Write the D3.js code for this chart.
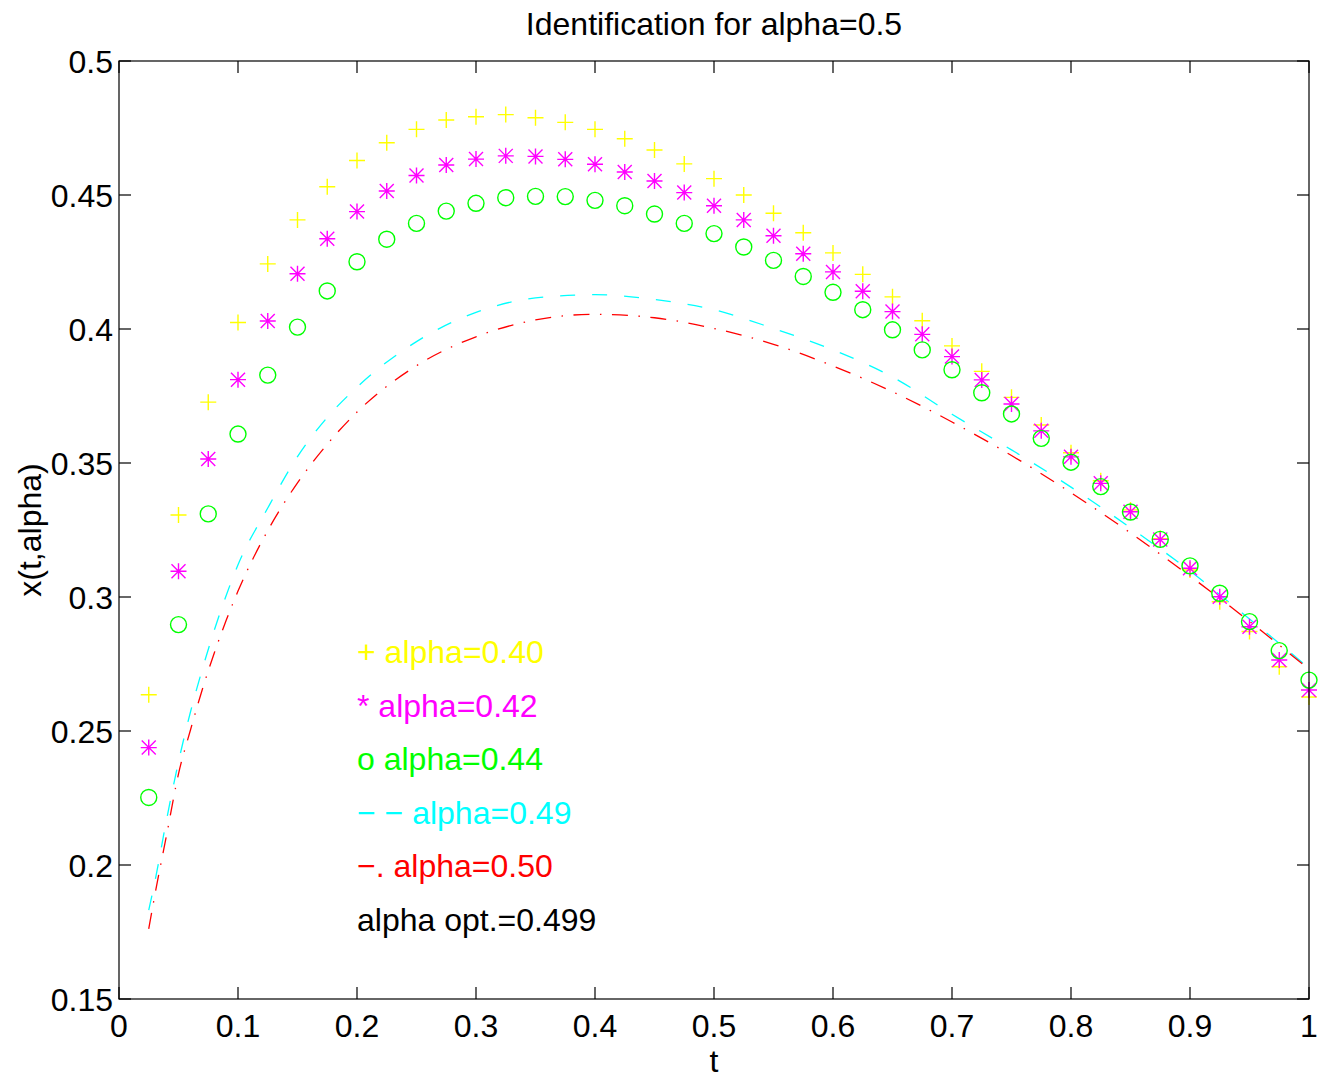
<!DOCTYPE html>
<html><head><meta charset="utf-8">
<script src="https://cdn.jsdelivr.net/npm/d3@7"></script>
<style>body{margin:0;background:#fff}svg{display:block}text{font-family:"Liberation Sans",Arial,Helvetica,sans-serif}</style>
</head><body><svg id="c" width="1327" height="1078"></svg>
<script>
const tMarkers = [0.025,0.05,0.075,0.1,0.125,0.15,0.175,0.2,0.225,0.25,0.275,0.3,0.325,0.35,0.375,0.4,0.425,0.45,0.475,0.5,0.525,0.55,0.575,0.6,0.625,0.65,0.675,0.7,0.725,0.75,0.775,0.8,0.825,0.85,0.875,0.9,0.925,0.95,0.975,1.0];
const alpha040 = [0.2635,0.3306,0.3727,0.4024,0.4243,0.4407,0.4531,0.4629,0.4695,0.4745,0.4780,0.4792,0.4800,0.4788,0.4771,0.4745,0.4710,0.4668,0.4616,0.4561,0.4500,0.4432,0.4359,0.4284,0.4204,0.4120,0.4031,0.3937,0.3842,0.3745,0.3642,0.3538,0.3434,0.3325,0.3218,0.3101,0.2982,0.2871,0.2740,0.2627];
const alpha042 = [0.2438,0.3096,0.3515,0.3811,0.4030,0.4206,0.4337,0.4438,0.4515,0.4573,0.4612,0.4634,0.4646,0.4644,0.4633,0.4615,0.4586,0.4552,0.4509,0.4460,0.4407,0.4348,0.4281,0.4213,0.4141,0.4065,0.3980,0.3897,0.3810,0.3720,0.3620,0.3523,0.3424,0.3318,0.3215,0.3107,0.3001,0.2889,0.2765,0.2653];
const alpha044 = [0.2252,0.2897,0.3310,0.3608,0.3828,0.4007,0.4142,0.4251,0.4335,0.4394,0.4440,0.4469,0.4490,0.4495,0.4494,0.4480,0.4460,0.4429,0.4394,0.4356,0.4306,0.4256,0.4196,0.4137,0.4072,0.3997,0.3922,0.3848,0.3762,0.3683,0.3592,0.3503,0.3412,0.3317,0.3215,0.3116,0.3014,0.2908,0.2800,0.2690];
const tCurve = [0.025,0.03,0.04,0.05,0.06,0.07,0.08,0.09,0.1,0.125,0.15,0.175,0.2,0.25,0.3,0.35,0.4,0.45,0.5,0.55,0.6,0.65,0.7,0.75,0.8,0.85,0.9,0.95,1.0];
const alpha049 = [0.1832,0.1935,0.2170,0.2385,0.2570,0.2730,0.2875,0.3005,0.3120,0.3332,0.3524,0.3670,0.3783,0.3953,0.4062,0.4116,0.4128,0.4110,0.4072,0.4002,0.3922,0.3821,0.3682,0.3549,0.3410,0.3258,0.3097,0.2918,0.2735];
const alpha050 = [0.1762,0.1885,0.2112,0.2340,0.2503,0.2655,0.2790,0.2912,0.3022,0.3248,0.3426,0.3570,0.3690,0.3863,0.3971,0.4034,0.4055,0.4042,0.4002,0.3943,0.3862,0.3766,0.3653,0.3528,0.3389,0.3239,0.3078,0.2909,0.2730];
const xTicks = [0,0.1,0.2,0.3,0.4,0.5,0.6,0.7,0.8,0.9,1];
const xTickLabels = ["0","0.1","0.2","0.3","0.4","0.5","0.6","0.7","0.8","0.9","1"];
const yTicks = [0.15,0.2,0.25,0.3,0.35,0.4,0.45,0.5];
const yTickLabels = ["0.15","0.2","0.25","0.3","0.35","0.4","0.45","0.5"];
const legendLabels = ["+ alpha=0.40","* alpha=0.42","o alpha=0.44","\u2212 \u2212 alpha=0.49","\u2212. alpha=0.50","alpha opt.=0.499"];
const legendColors = ["#ffff00","#ff00ff","#00ff00","#00ffff","#ff0000","#000000"];

const L=119,R=1309,T=61,B=999;
const svg=d3.select("#c");
const x=d3.scaleLinear().domain([0,1]).range([L,R]);
const y=d3.scaleLinear().domain([0.15,0.5]).range([B,T]);
const FS=32;

// curves
const line=d3.line().x(d=>x(d[0])).y(d=>y(d[1])).curve(d3.curveMonotoneX);
svg.append("path").attr("d",line(tCurve.map((t,i)=>[t,alpha049[i]])))
  .attr("fill","none").attr("stroke","#00ffff").attr("stroke-width",1.3).attr("stroke-dasharray","15,17");
svg.append("path").attr("d",line(tCurve.map((t,i)=>[t,alpha050[i]])))
  .attr("fill","none").attr("stroke","#ff0000").attr("stroke-width",1.3).attr("stroke-dasharray","16,10.5,1.5,10.5");

// markers
const g=svg.append("g");
g.selectAll(".plus").data(tMarkers.map((t,i)=>[t,alpha040[i]])).join("path")
  .attr("d",d=>{const cx=x(d[0]),cy=y(d[1]);return `M${cx-8},${cy}H${cx+8}M${cx},${cy-8}V${cy+8}`;})
  .attr("stroke","#ffff00").attr("stroke-width",1.4).attr("fill","none");
g.selectAll(".star").data(tMarkers.map((t,i)=>[t,alpha042[i]])).join("path")
  .attr("d",d=>{const cx=x(d[0]),cy=y(d[1]),a=7;return `M${cx-8},${cy}H${cx+8}M${cx},${cy-8}V${cy+8}M${cx-a},${cy-a}L${cx+a},${cy+a}M${cx-a},${cy+a}L${cx+a},${cy-a}`;})
  .attr("stroke","#ff00ff").attr("stroke-width",1.4).attr("fill","none");
g.selectAll(".circ").data(tMarkers.map((t,i)=>[t,alpha044[i]])).join("circle")
  .attr("cx",d=>x(d[0])).attr("cy",d=>y(d[1])).attr("r",8)
  .attr("stroke","#00ff00").attr("stroke-width",1.4).attr("fill","none");

// axes box and ticks
const ax=svg.append("g").attr("stroke","#000").attr("stroke-width",1.2);
ax.append("rect").attr("x",L).attr("y",T).attr("width",R-L).attr("height",B-T).attr("fill","none");
xTicks.forEach(v=>{
  ax.append("line").attr("x1",x(v)).attr("x2",x(v)).attr("y1",B).attr("y2",B-12);
  ax.append("line").attr("x1",x(v)).attr("x2",x(v)).attr("y1",T).attr("y2",T+12);
});
yTicks.forEach(v=>{
  ax.append("line").attr("y1",y(v)).attr("y2",y(v)).attr("x1",L).attr("x2",L+12);
  ax.append("line").attr("y1",y(v)).attr("y2",y(v)).attr("x1",R).attr("x2",R-12);
});
svg.append("g").selectAll("text").data(xTicks).join("text")
  .attr("x",d=>x(d)).attr("y",B+38).attr("text-anchor","middle").attr("font-size",FS)
  .text((d,i)=>xTickLabels[i]);
svg.append("g").selectAll("text").data(yTicks).join("text")
  .attr("x",L-6).attr("y",d=>y(d)+11.5).attr("text-anchor","end").attr("font-size",FS)
  .text((d,i)=>yTickLabels[i]);

svg.append("text").attr("x",(L+R)/2).attr("y",35).attr("text-anchor","middle").attr("font-size",FS).text("Identification for alpha=0.5");
svg.append("text").attr("x",(L+R)/2).attr("y",1072).attr("text-anchor","middle").attr("font-size",FS).text("t");
svg.append("text").attr("transform",`translate(41,${(T+B)/2}) rotate(-90)`).attr("text-anchor","middle").attr("font-size",FS).text("x(t,alpha)");

// legend text
svg.append("g").selectAll("text").data(legendLabels).join("text")
  .attr("x",357).attr("y",(d,i)=>663+i*53.6).attr("font-size",FS)
  .attr("fill",(d,i)=>legendColors[i]).text(d=>d);
</script></body></html>
